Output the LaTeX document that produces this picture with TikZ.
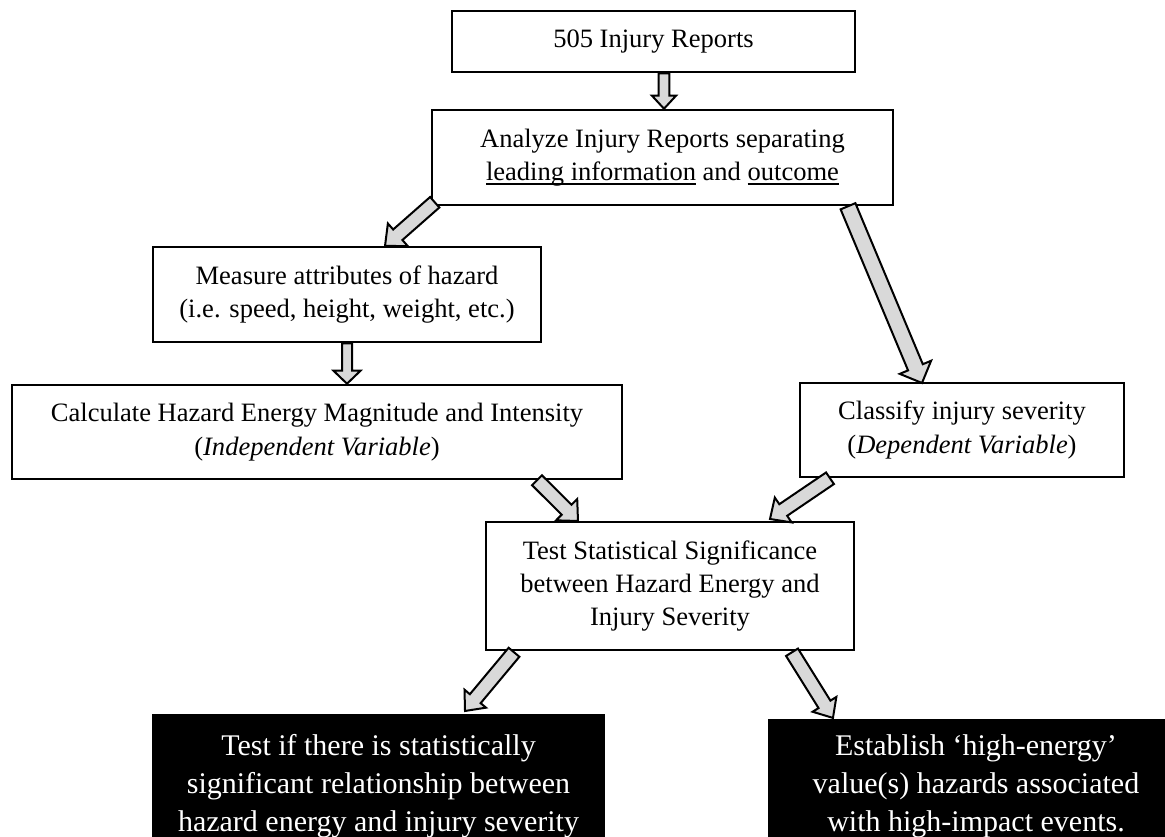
\documentclass[tikz,border=0pt]{standalone}
\usepackage{fontspec}
\setmainfont{Liberation Serif}
\usetikzlibrary{calc}
\definecolor{arrowgray}{RGB}{217,217,217}
\tikzset{
  box/.style={draw=black, line width=1.9pt, fill=white, align=center,
    inner sep=0pt, font=\fontsize{19.9}{25.1}\selectfont},
  darkbox/.style={fill=black, text=white, align=center, inner sep=0pt,
    font=\fontsize{22.5}{28.5}\selectfont},
  blockarr/.style={draw=black, fill=arrowgray, line width=1.5pt, line join=miter},
}
% underline at a fixed distance below the baseline
\newcommand\ulfix[1]{\leavevmode\setbox0=\hbox{#1}\rlap{\rule[-0.16em]{\wd0}{0.065em}}\box0\relax}
% block arrow: #1 tail, #2 tip, #3 half shaft width, #4 half head width, #5 head length (px)
\newcommand\blockarrow[5]{%
  \path let \p1=($(#2)-(#1)$) in \pgfextra{%
    \pgfmathsetmacro\baAng{atan2(\y1,\x1)}%
    \pgfmathsetmacro\baLen{veclen(\x1,\y1)}%
    \xdef\baAng{\baAng}\xdef\baLen{\baLen}};
  \draw[blockarr, shift={(#1)}, rotate=\baAng]
    (0pt,{-#3*0.75pt}) -- ({\baLen pt-#5*0.75pt},{-#3*0.75pt})
    -- ({\baLen pt-#5*0.75pt},{-#4*0.75pt}) -- ({\baLen pt},0pt)
    -- ({\baLen pt-#5*0.75pt},{#4*0.75pt}) -- ({\baLen pt-#5*0.75pt},{#3*0.75pt})
    -- (0pt,{#3*0.75pt}) -- cycle;
}
\begin{document}
\begin{tikzpicture}[x=0.75pt,y=-0.75pt]
\useasboundingbox (0,0) rectangle (1165,837);

% process boxes
\node[box, minimum width=0.75pt*403, minimum height=0.75pt*61] (b1) at (653.5,41.5)
  {505 Injury Reports};
\node[box, minimum width=0.75pt*461, minimum height=0.75pt*95] (b2) at (662.5,157.5)
  {Analyze Injury Reports separating\\\ulfix{leading information} and \ulfix{outcome}};
\node[box, minimum width=0.75pt*388, minimum height=0.75pt*95] (b3) at (347,294.5)
  {Measure attributes of hazard\\(i.e. speed, height, weight, etc.)};
\node[box, minimum width=0.75pt*610, minimum height=0.75pt*94] (b4) at (317,432)
  {Calculate Hazard Energy Magnitude and Intensity\\(\textit{Independent Variable})};
\node[box, minimum width=0.75pt*324, minimum height=0.75pt*94] (b5) at (962,430)
  {Classify injury severity\\(\textit{Dependent Variable})};
\node[box, minimum width=0.75pt*368, minimum height=0.75pt*128] (b6) at (670,586)
  {Test Statistical Significance\\between Hazard Energy and\\Injury Severity};

% outcome boxes
\node[darkbox, minimum width=0.75pt*453, minimum height=0.75pt*144] (b7) at (378.5,786)
  {Test if there is statistically\\significant relationship between\\hazard energy and injury severity};
\node[darkbox, minimum width=0.75pt*416, minimum height=0.75pt*134] (b8) at (976,786)
  {Establish ‘high-energy’\\value(s) hazards associated\\with high-impact events.};

% arrow end points
\coordinate (a1s) at ($(b1.south)+(10.5,0)$);
\coordinate (a1e) at (b2.north -| a1s);
\coordinate (a2s) at ($(b2.south west)+(4,-4)$);
\coordinate (a2e) at (385,246);
\coordinate (a3s) at (b3.south);
\coordinate (a3e) at (b4.north -| a3s);
\coordinate (a4s) at ($(b2.south)+(185.5,0)$);
\coordinate (a4e) at (922,383);
\coordinate (a5s) at ($(b4.south)+(220,0)$);
\coordinate (a5e) at (578,521);
\coordinate (a6s) at ($(b5.south)+(-132,0)$);
\coordinate (a6e) at (770,519);
\coordinate (a7s) at ($(b6.south)+(-156,1)$);
\coordinate (a7e) at (465,711);
\coordinate (a8s) at ($(b6.south)+(122,1)$);
\coordinate (a8e) at (833,718);

\blockarrow{a1s}{a1e}{5.3}{12}{13}
\blockarrow{a2s}{a2e}{7}{15}{17}
\blockarrow{a3s}{a3e}{5}{13.5}{13}
\blockarrow{a4s}{a4e}{8}{17}{17}
\blockarrow{a5s}{a5e}{7}{15}{16}
\blockarrow{a6s}{a6e}{7}{15}{16}
\blockarrow{a7s}{a7e}{7}{14}{16}
\blockarrow{a8s}{a8e}{7}{14}{16}
\end{tikzpicture}
\end{document}
